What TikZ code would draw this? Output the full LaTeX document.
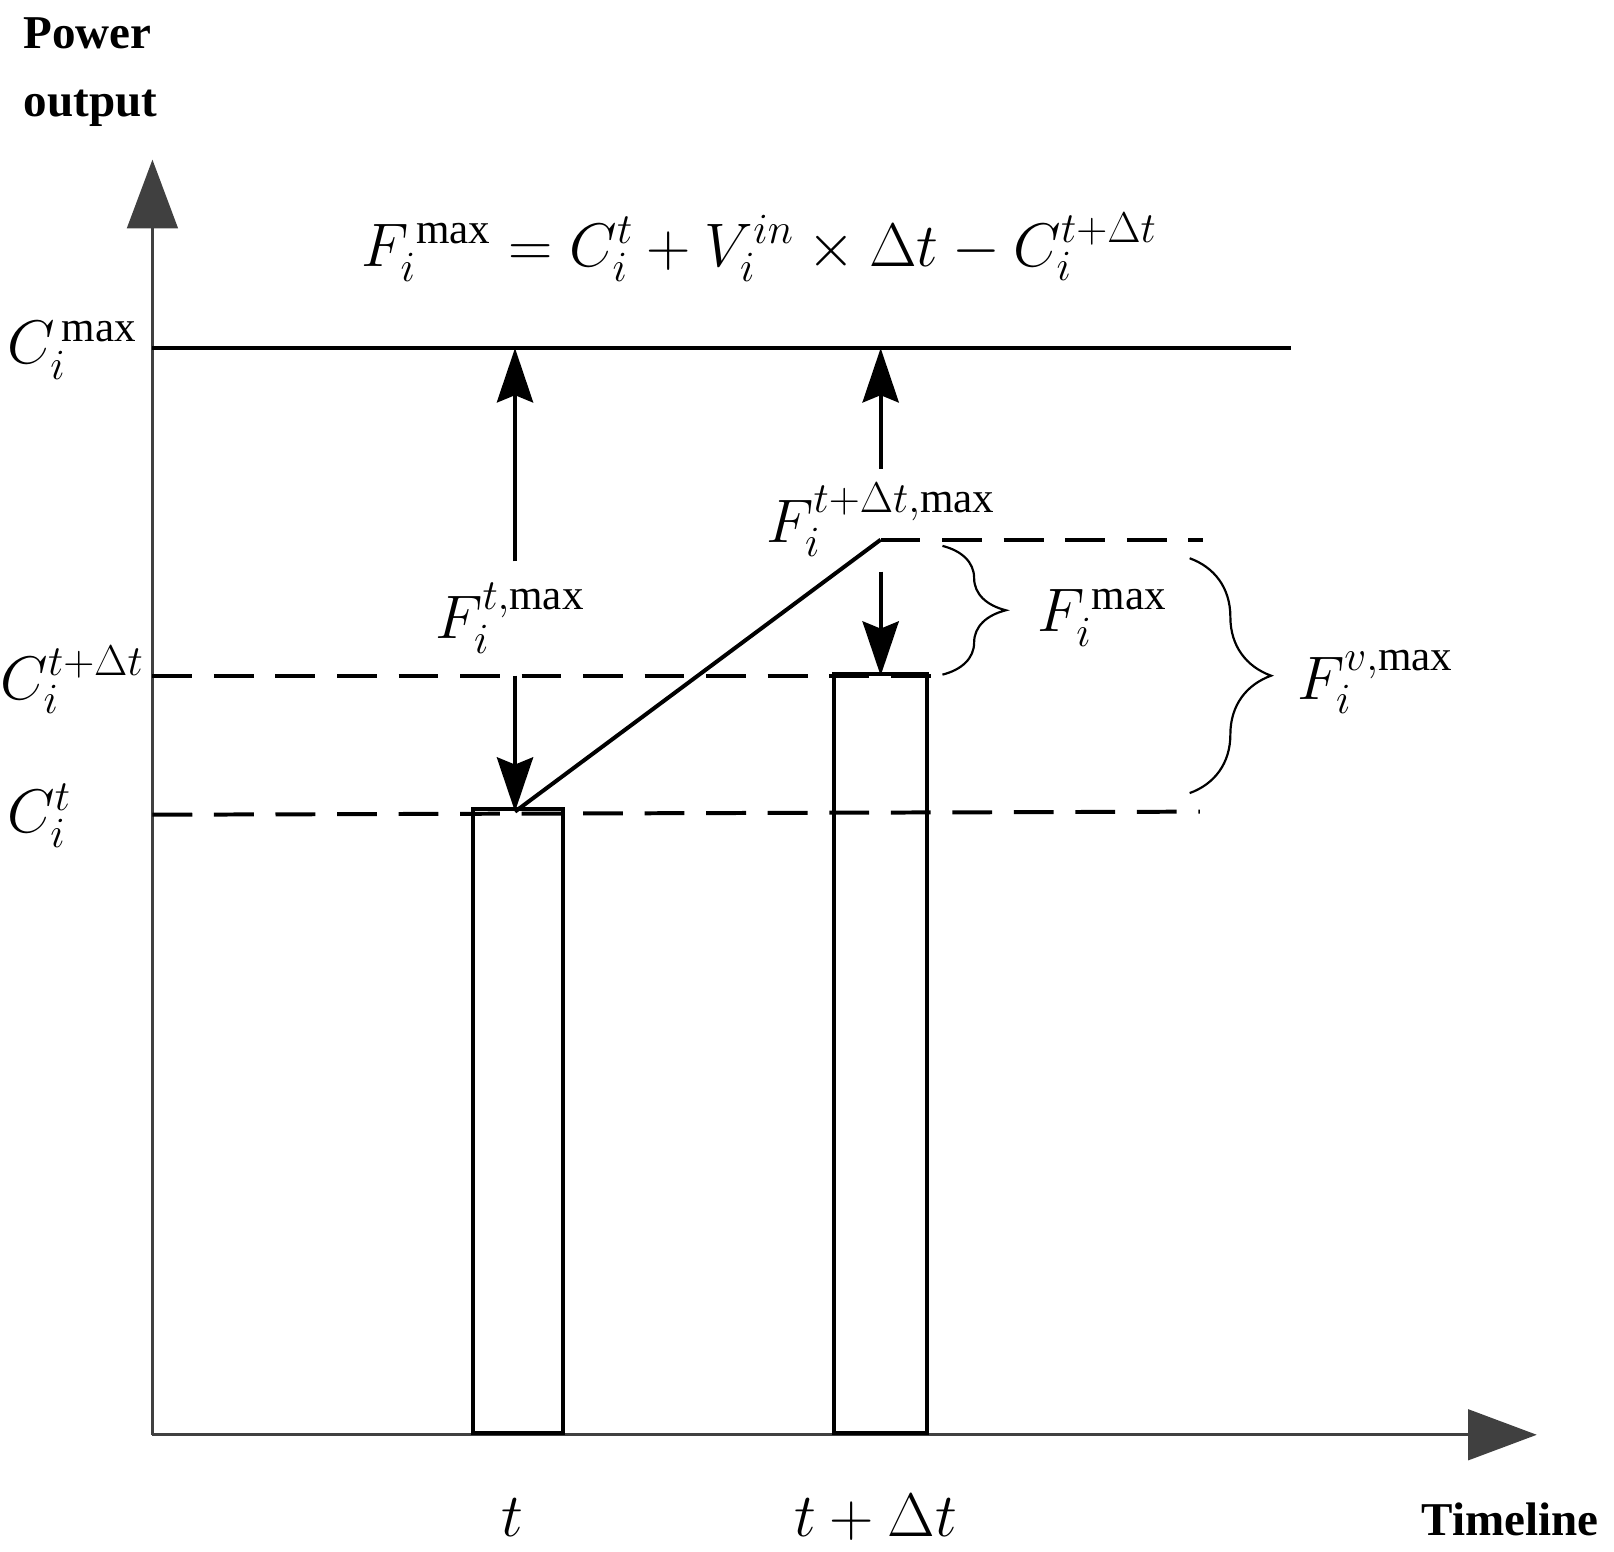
\documentclass[tikz,border=0pt]{standalone}
\usepackage{fix-cm}
\usepackage{amsmath}
\usepackage{fontspec}
\setmainfont{Liberation Serif}
\usetikzlibrary{arrows.meta,decorations.pathreplacing}
\begin{document}
\begin{tikzpicture}[x=0.02cm,y=-0.02cm,
  lbl/.style={font=\fontsize{34}{40}\selectfont, inner sep=0pt},
  ttl/.style={font=\fontsize{26}{30}\selectfont\bfseries, inner sep=0pt},
  ln/.style={line width=2.2pt},
  dsh/.style={line width=2.2pt, dash pattern=on 22pt off 12pt},
  arr/.style={ln,-{Stealth[length=30pt,width=20pt,inset=4pt]}},
  ax/.style={line width=1.5pt, draw=black!75,-{Triangle[length=38pt,width=28pt,fill=black!75]}},
  br/.style={line width=1.2pt, decorate}]
\useasboundingbox (0,0) rectangle (1567,1506);
\coordinate (O) at (148,1393);
\coordinate (Y) at (148,155);
\coordinate (X) at (1492,1393);
\draw[ax] (O) -- (Y);
\draw[ax] (O) -- (X);
\node[ttl] (pw) at (85,32) {Power};
\node[ttl] (po) at (88,105) {output};
\node[ttl] (tl) at (1466,1475) {Timeline};
% bars
\node[draw, ln, minimum width=88*0.02cm, minimum height=606*0.02cm, inner sep=0pt, anchor=south west] (b1) at (457,1393) {};
\node[draw, ln, minimum width=90*0.02cm, minimum height=737*0.02cm, inner sep=0pt, anchor=south west] (b2) at (808,1393) {};
% levels
\coordinate (cm0) at (148,338); \coordinate (cm1) at (1253,338);
\draw[ln] (cm0) -- (cm1);
\coordinate (cd0) at (148,656); \coordinate (cd1) at (915,656);
\draw[dsh] (cd0) -- (cd1);
\coordinate (ct0) at (148,791); \coordinate (ct1) at (1165,788);
\draw[dsh] (ct0) -- (ct1);
\coordinate (p1) at (500,788); \coordinate (p2) at (855,524); \coordinate (p3) at (1168,524);
\draw[ln] (p1) -- (p2);
\draw[dsh] (p2) -- (p3);
% arrows
\coordinate (a1) at (500,545); \coordinate (a1t) at (500,338);
\coordinate (a2) at (500,656);
\coordinate (a3) at (855,455); \coordinate (a3t) at (855,338);
\coordinate (a4) at (855,555); \coordinate (a4t) at (855,656);
\draw[arr] (a1) -- (a1t);
\draw[arr] (a2) -- (p1);
\draw[arr] (a3) -- (a3t);
\draw[arr] (a4) -- (a4t);
% braces
\coordinate (s1) at (915,655); \coordinate (s2) at (915,530);
\draw[br, decoration={brace, amplitude=35pt, aspect=0.5}] (s2) -- (s1);
\coordinate (g1) at (1155,770); \coordinate (g2) at (1155,542);
\draw[br, decoration={brace, amplitude=45pt, aspect=0.5}] (g2) -- (g1);
% labels
\node[lbl] (eq) at (737,240) {$F_i^{\,\mathrm{max}}=C_i^{t}+V_i^{in}\times\Delta t-C_i^{t+\Delta t}$};
\node[lbl] (lcm) at (70,340) {$C_i^{\,\mathrm{max}}$};
\node[lbl] (lcd) at (70,660) {$C_i^{t+\Delta t}$};
\node[lbl] (lct) at (38,792) {$C_i^{t}$};
\node[lbl] (lf1) at (495,600) {$F_i^{t,\mathrm{max}}$};
\node[lbl] (lf2) at (855,505) {$F_i^{t+\Delta t,\mathrm{max}}$};
\node[lbl] (lf3) at (1070,600) {$F_i^{\,\mathrm{max}}$};
\node[lbl] (lf4) at (1335,662) {$F_i^{v,\mathrm{max}}$};
\node[lbl] (lt) at (497,1473) {$t$};
\node[lbl] (ltd) at (850,1473) {$t+\Delta t$};
\end{tikzpicture}
\end{document}
